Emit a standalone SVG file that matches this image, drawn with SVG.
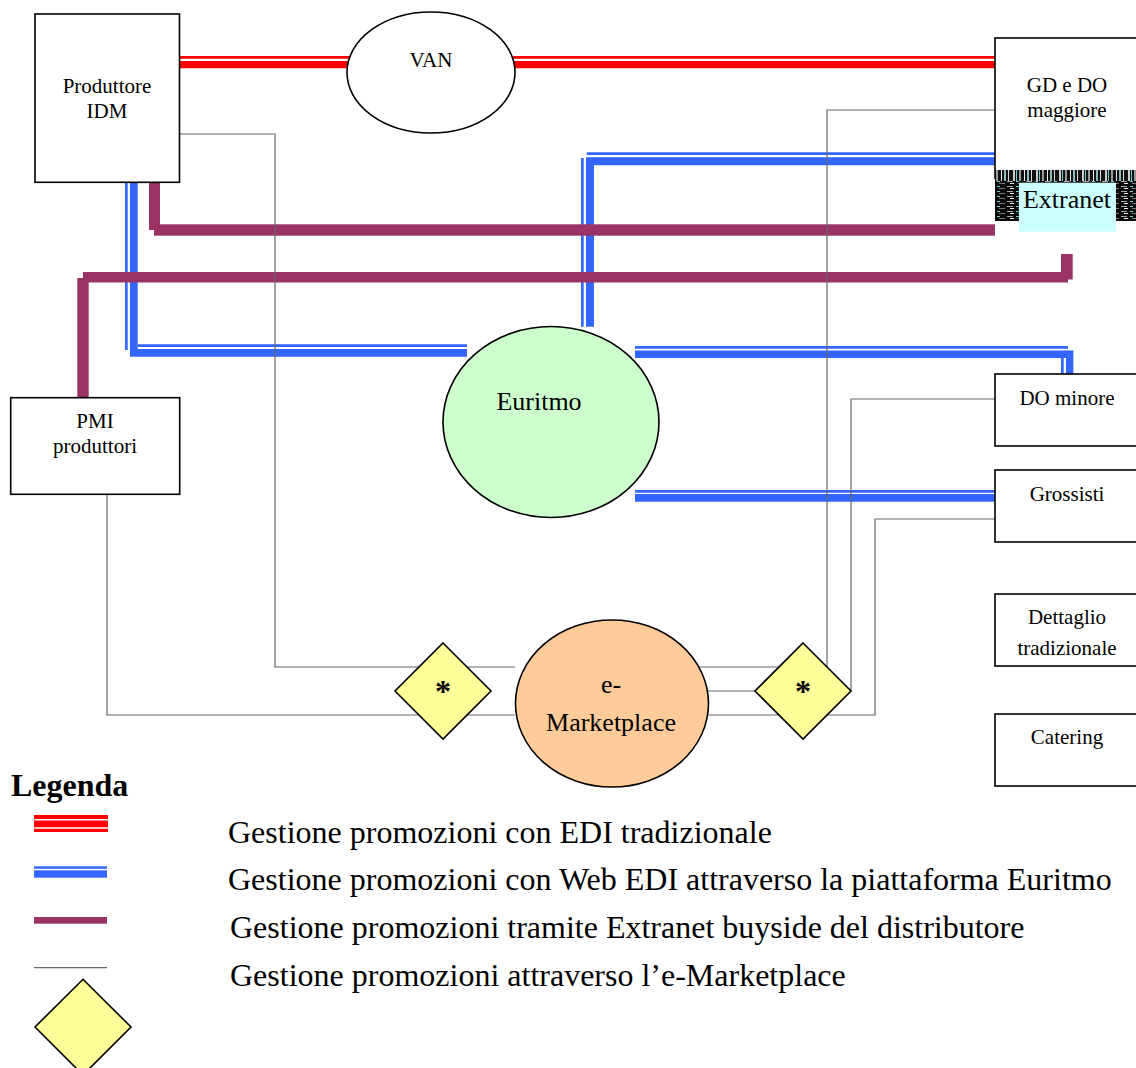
<svg xmlns="http://www.w3.org/2000/svg" width="1136" height="1068" viewBox="0 0 1136 1068">
<style>
text{font-family:"Liberation Serif","Times New Roman",serif;fill:#000;text-anchor:middle}
.lbl{font-size:21px}
.big{font-size:26px}
.leg{font-size:32px;text-anchor:start}
.box{fill:#fff;stroke:#000;stroke-width:1.6}
.ell{stroke:#000;stroke-width:1.6}
.red{stroke:#FF0000;fill:none}
.blue{stroke:#3366FF;fill:none}
.gray{stroke:#666;stroke-width:1.2;fill:none}
.dia{fill:#FFFF99;stroke:#000;stroke-width:1.6}
.ast{font-size:32px;font-weight:bold}
</style>
<defs>
<pattern id="vstripes" patternUnits="userSpaceOnUse" width="23" height="12">
<rect width="23" height="12" fill="#111"/>
<rect x="1" width="2" height="12" fill="#ccc"/>
<rect x="4" width="1" height="12" fill="#6cc"/>
<rect x="7" width="2" height="12" fill="#999"/>
<rect x="12" width="1" height="12" fill="#eee"/>
<rect x="15" width="2" height="12" fill="#8bb"/>
<rect x="19" width="1" height="12" fill="#ddd"/>
</pattern>
<pattern id="hnoise" patternUnits="userSpaceOnUse" width="19" height="5">
<rect width="19" height="5" fill="#0a0a0a"/>
<rect x="0" y="1" width="6" height="1" fill="#aaa"/>
<rect x="9" y="1" width="3" height="1" fill="#7cc"/>
<rect x="3" y="3" width="4" height="1" fill="#eee"/>
<rect x="11" y="3" width="6" height="1" fill="#777"/>
</pattern>
</defs>

<g id="connectors">
<line class="red" x1="180" y1="57.35" x2="995" y2="57.35" stroke-width="2.7"/>
<line class="red" x1="180" y1="64.65" x2="995" y2="64.65" stroke-width="7.3"/>
<polyline class="blue" points="133.85,182 133.85,352.85 467,352.85" stroke-width="7.7"/>
<line class="blue" x1="126.35" y1="182" x2="126.35" y2="350" stroke-width="2.7"/>
<line class="blue" x1="137.7" y1="345.65" x2="467" y2="345.65" stroke-width="2.7"/>
<polyline class="blue" points="590,326.7 590,161.15 995,161.15" stroke-width="8"/>
<line class="blue" x1="582.35" y1="158" x2="582.35" y2="326.7" stroke-width="2.7"/>
<line class="blue" x1="586.7" y1="153.65" x2="995" y2="153.65" stroke-width="2.7"/>
<polyline class="blue" points="635,354.2 1069.7,354.2 1069.7,376" stroke-width="7.4"/>
<line class="blue" x1="635" y1="347.35" x2="1068" y2="347.35" stroke-width="2.7"/>
<line class="blue" x1="1062.35" y1="358" x2="1062.35" y2="376" stroke-width="2.7"/>
<line class="blue" x1="635" y1="497.85" x2="995" y2="497.85" stroke-width="7.7"/>
<line class="blue" x1="635" y1="491.35" x2="995" y2="491.35" stroke-width="2.7"/>
<rect x="149" y="182" width="11" height="48" fill="#993366"/>
<rect x="154" y="224.3" width="841" height="11.4" fill="#993366"/>
<rect x="77.3" y="278" width="11.4" height="120" fill="#993366"/>
<rect x="83" y="272" width="985" height="10.5" fill="#993366"/>
<rect x="1061" y="254" width="11.7" height="25.5" fill="#993366"/>
<polyline class="gray" points="180,134 275,134 275,667 515,667"/>
<polyline class="gray" points="107,494 107,715 515,715"/>
<polyline class="gray" points="699,667 827,667 827,110 995,110"/>
<line class="gray" x1="705" y1="691" x2="755" y2="691"/>
<polyline class="gray" points="851,691 851,399 995,399"/>
<polyline class="gray" points="706,715 875,715 875,519 995,519"/>
</g>

<g id="produttore-idm">
<rect class="box" x="35" y="14" width="144.5" height="168.3"/>
<text class="lbl" x="107" y="93">Produttore</text>
<text class="lbl" x="107" y="118">IDM</text>
</g>

<g id="van">
<ellipse class="ell" cx="431" cy="72.5" rx="84" ry="60.5" fill="#fff"/>
<text class="lbl" x="431" y="67">VAN</text>
</g>

<g id="gd-do-maggiore">
<rect class="box" x="995" y="38" width="160" height="140"/>
<text class="lbl" x="1067" y="92">GD e DO</text>
<text class="lbl" x="1067" y="117">maggiore</text>
</g>

<g id="extranet">
<rect x="995" y="170" width="141" height="11" fill="url(#vstripes)"/>
<rect x="995" y="181" width="141" height="40" fill="url(#hnoise)"/>
<rect x="1019" y="182.7" width="97" height="49" fill="#CCFFFF"/>
<text class="big" x="1067" y="208">Extranet</text>
</g>

<g id="euritmo">
<ellipse class="ell" cx="551" cy="422" rx="108" ry="95.5" fill="#CCFFCC"/>
<text class="big" x="539" y="410">Euritmo</text>
</g>

<g id="pmi-produttori">
<rect class="box" x="10.7" y="397.7" width="169" height="96.6"/>
<text class="lbl" x="95" y="428">PMI</text>
<text class="lbl" x="95" y="453">produttori</text>
</g>

<g id="do-minore">
<rect class="box" x="995" y="374" width="150" height="72"/>
<text class="lbl" x="1067" y="405">DO minore</text>
</g>

<g id="grossisti">
<rect class="box" x="995" y="470" width="150" height="72"/>
<text class="lbl" x="1067" y="501">Grossisti</text>
</g>

<g id="dettaglio-tradizionale">
<rect class="box" x="995" y="594" width="150" height="72"/>
<text class="lbl" x="1067" y="624">Dettaglio</text>
<text class="lbl" x="1067" y="655">tradizionale</text>
</g>

<g id="catering">
<rect class="box" x="995" y="714" width="150" height="72"/>
<text class="lbl" x="1067" y="744">Catering</text>
</g>

<g id="e-marketplace">
<ellipse class="ell" cx="612" cy="703.5" rx="96.5" ry="83.5" fill="#FFCC99"/>
<text class="big" x="611" y="693">e-</text>
<text class="big" x="611" y="731">Marketplace</text>
</g>

<g id="diamond-left">
<polygon class="dia" points="443,643 491,691 443,739 395,691"/>
<text class="ast" x="443" y="702">*</text>
</g>

<g id="diamond-right">
<polygon class="dia" points="803,643 851,691 803,739 755,691"/>
<text class="ast" x="803" y="702">*</text>
</g>

<g id="legend">
<text x="11" y="796" style="font-size:32px;font-weight:bold;text-anchor:start">Legenda</text>
<rect x="34" y="815" width="74" height="17" fill="#FF0000"/>
<line x1="34" y1="819.8" x2="108" y2="819.8" stroke="#fff" stroke-width="1.5"/>
<line x1="34" y1="828" x2="108" y2="828" stroke="#fff" stroke-width="1.5"/>
<rect x="34" y="866.3" width="73" height="2.5" fill="#3366FF"/>
<rect x="34" y="870.3" width="73" height="7.4" fill="#3366FF"/>
<rect x="34" y="917" width="73" height="6.7" fill="#993366"/>
<line class="gray" x1="34" y1="967.7" x2="107" y2="967.7"/>
<polygon class="dia" points="83,979.3 131,1027 83,1075 35,1027"/>
<text class="leg" x="228" y="843">Gestione promozioni con EDI tradizionale</text>
<text class="leg" x="228" y="890">Gestione promozioni con Web EDI attraverso la piattaforma Euritmo</text>
<text class="leg" x="230" y="938">Gestione promozioni tramite Extranet buyside del distributore</text>
<text class="leg" x="230" y="986">Gestione promozioni attraverso l’e-Marketplace</text>
</g>
</svg>
